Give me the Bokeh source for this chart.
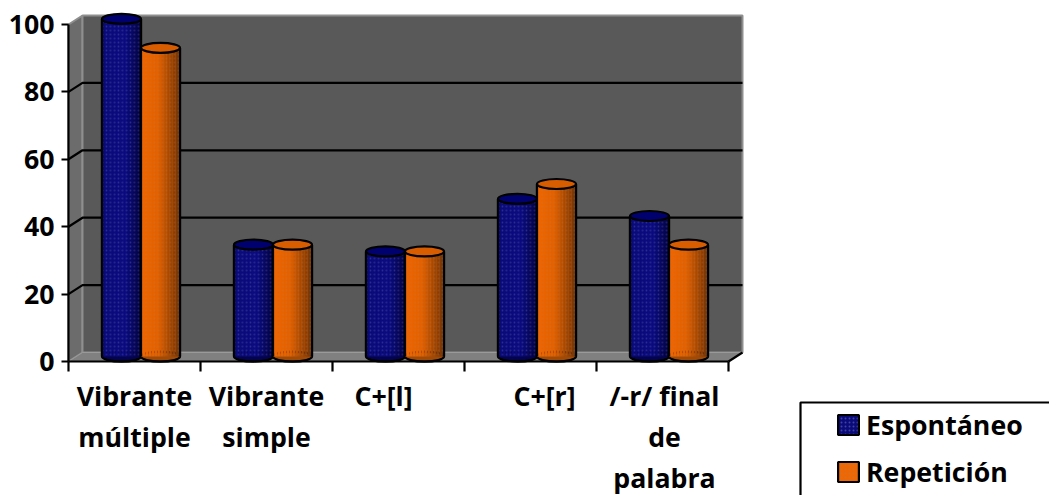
from bokeh.plotting import figure
from bokeh.models import Range1d, LinearAxis, FixedTicker, Legend, LegendItem
from bokeh.core.properties import value
from bokeh.embed import file_html
from bokeh.resources import INLINE

categories = [["Vibrante", "múltiple"], ["Vibrante", "simple"], ["C+[l]"], ["C+[r]"], ["/-r/ final", "de", "palabra"]]
espontaneo = [100, 33, 31, 46.6, 41.5]
repeticion = [91.4, 33, 31, 51, 33]
y_ticks = [0, 20, 40, 60, 80, 100]
label_nudge = [0, 0, -15, 14, 2]
legend_labels = ["Espontáneo", "Repetición"]

W, H = 1049, 495
UX, UY = 132.0, 3.37
X0, Y0 = 68, 361
FONT = "Open Sans"
FS = "26.7px"
p = figure(width=W, height=H, output_backend="svg", toolbar_location=None, min_border=0,
           x_range=Range1d(-X0 / UX, (W - X0) / UX), y_range=Range1d(-(H - Y0) / UY, Y0 / UY),
           background_fill_color="white", border_fill_color="white", outline_line_color=None)
p.xaxis.visible = False
p.yaxis.visible = False
p.xgrid.visible = False
p.ygrid.visible = False

n = len(categories)
DX, DY = 14 / UX, 9 / UY
top = max(y_ticks)

# walls and floor
p.patch([0, DX, DX, 0], [0, DY, top + DY, top], fill_color="#6c6c6c", line_color="#8f8f8f", line_width=2)
p.patch([DX, n + DX, n + DX, DX], [DY, DY, top + DY, top + DY], fill_color="#595959", line_color="#8f8f8f", line_width=2)
p.patch([0, n, n + DX, DX], [0, 0, DY, DY], fill_color="#808080", line_color="#9a9a9a", line_width=1)

for t in y_ticks[1:-1]:
    p.line([0, DX, n + DX], [t, t + DY, t + DY], line_color="black", line_width=2.2)
p.line([n, n + DX], [0, DY], line_color="black", line_width=2.2)


def mix(a, b, t):
    ca = [int(a[i:i + 2], 16) for i in (1, 3, 5)]
    cb = [int(b[i:i + 2], 16) for i in (1, 3, 5)]
    return "#%02x%02x%02x" % tuple(round(u + (v - u) * t) for u, v in zip(ca, cb))


BW = 39 / UX
EH = 10 / UY
STRIPS = 26
renderers = []


def cylinders(vals, off, c_left, c_mid, c_right, c_top, c_base, hatch, knee):
    xs = [i + 0.5 + off for i in range(n)]
    base = DY * 0.55
    tops = [v + base + 0.2 for v in vals]
    legend_r = p.vbar(xs, BW, tops, [base] * n, fill_color=c_left, line_color="black", line_width=2.2,
                      hatch_pattern=".", hatch_color=hatch, hatch_alpha=0.5, hatch_scale=4, hatch_weight=1)
    p.ellipse(xs, [base] * n, width=BW, height=EH, fill_color=c_base, line_color="black", line_width=2.2)
    for k in range(STRIPS):
        f = (k + 0.5) / STRIPS
        if f < knee:
            col = mix(c_left, c_mid, f / knee)
        else:
            col = mix(c_mid, c_right, (f - knee) / (1 - knee))
        p.vbar([x - BW / 2 + BW * f for x in xs], BW / STRIPS * 1.06, tops, [base] * n, fill_color=col, line_color=None)
    p.vbar(xs, BW, tops, [base] * n, fill_alpha=0, line_color=None,
           hatch_pattern=".", hatch_color=hatch, hatch_alpha=0.22, hatch_scale=4, hatch_weight=1)
    for x, t in zip(xs, tops):
        p.line([x - BW / 2] * 2, [base, t], line_color="black", line_width=2.2)
        p.line([x + BW / 2] * 2, [base, t], line_color="black", line_width=2.2)
    p.ellipse(xs, tops, width=BW, height=EH, fill_color=c_top, line_color="black", line_width=2.2)
    renderers.append(legend_r)


cylinders(espontaneo, -20 / UX + DX / 2, "#0a0a78", "#0c0c80", "#03033c", "#00006e", "#04044c", "#7a7ad0", 0.6)
cylinders(repeticion, 19 / UX + DX / 2, "#f06600", "#e06000", "#6b3208", "#d85c00", "#a04a08", "#b08050", 0.45)

# axes
ya = LinearAxis(fixed_location=0, bounds=(0, top), ticker=FixedTicker(ticks=y_ticks), axis_line_color="black", axis_line_width=2.2,
                major_tick_line_color="black", major_tick_line_width=2.2, major_tick_out=7, major_tick_in=0,
                minor_tick_line_color=None, major_label_standoff=7,
                major_label_text_font=FONT, major_label_text_font_style="bold", major_label_text_font_size=FS,
                major_label_text_color="black")
p.add_layout(ya, "left")
xa = LinearAxis(fixed_location=0, bounds=(0, n), ticker=FixedTicker(ticks=list(range(n + 1))), axis_line_color="black", axis_line_width=2.2,
                major_tick_line_color="black", major_tick_line_width=2.2, major_tick_out=10, major_tick_in=0,
                minor_tick_line_color=None, major_label_overrides={i: "" for i in range(n + 1)})
p.add_layout(xa, "below")

# category labels
for i, lines in enumerate(categories):
    for r, s in enumerate(lines):
        p.text([i + 0.5 + label_nudge[i] / UX], [0], text=[s], text_align="center", text_baseline="middle",
               x_offset=0, y_offset=34 + 41 * r, text_font=value(FONT), text_font_style="bold",
               text_font_size=FS, text_color="black")

# legend frame


def dx(px):
    return (px - X0) / UX


def dy(py):
    return (Y0 - py) / UY


p.quad(left=[dx(800)], right=[dx(1080)], top=[dy(402)], bottom=[dy(540)], fill_color="white", line_color="black", line_width=2.2)
legend = Legend(items=[LegendItem(label=l, renderers=[r]) for l, r in zip(legend_labels, renderers)],
                location=(835, 5), orientation="vertical", padding=0, margin=0, spacing=10,
                glyph_width=26, glyph_height=25, label_height=23, label_standoff=5,
                border_line_color=None, background_fill_alpha=0,
                label_text_font=FONT, label_text_font_style="bold", label_text_font_size=FS, label_text_color="black")
p.add_layout(legend, "center")

open("out.html", "w").write(file_html(p, INLINE))
